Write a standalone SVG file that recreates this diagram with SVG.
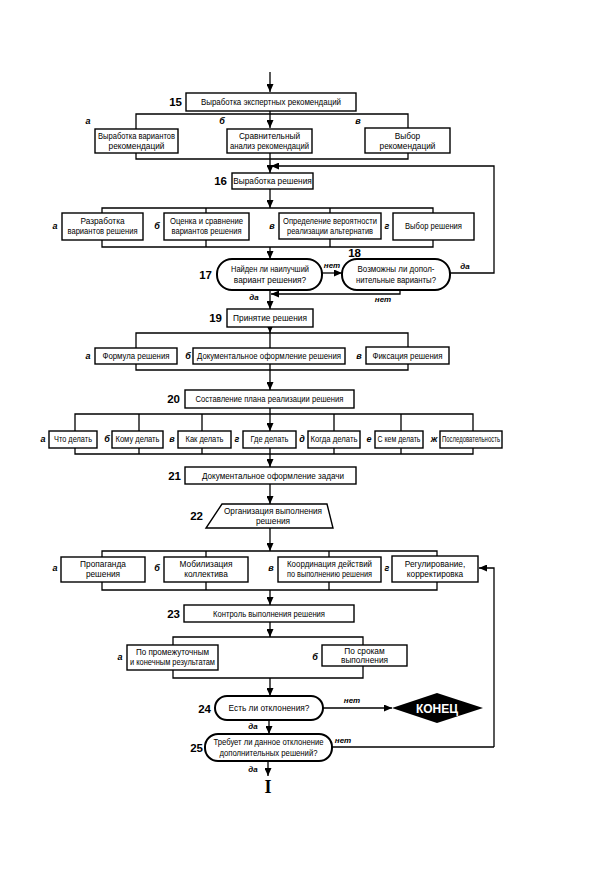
<svg xmlns="http://www.w3.org/2000/svg" width="595" height="880" viewBox="0 0 595 880">
<defs>
<marker id="ar" markerUnits="userSpaceOnUse" markerWidth="8" markerHeight="7" refX="8" refY="3.5" orient="auto">
<path d="M0,0 L8,3.5 L0,7 z" fill="#000"/>
</marker>
<style>
.box{fill:#fff;stroke:#000;stroke-width:1.4}
.dec{fill:#fff;stroke:#000;stroke-width:2}
.c{fill:none;stroke:#000;stroke-width:1.3}
.a{fill:none;stroke:#000;stroke-width:1.3;marker-end:url(#ar)}
text{font-family:"Liberation Sans",Arial,sans-serif;fill:#000}
.t{font-size:8.3px;text-anchor:middle}
.s{font-size:8.3px;text-anchor:middle}
.n{font-size:11.5px;font-weight:bold;text-anchor:end}
.l{font-size:9px;font-weight:bold;font-style:italic;text-anchor:middle}
.y{font-size:8px;font-weight:bold;font-style:italic;text-anchor:middle}
</style>
</defs>
<rect width="595" height="880" fill="#fff"/>

<g id="connectors">
<path class="a" d="M270,72 V92"/>
<path class="a" d="M270,111 V128"/>
<path class="c" d="M136,129 V114 H408 V128"/>
<path class="c" d="M136,153 V159 H408 V153 M270,153 V159"/>
<path class="a" d="M270,159 V173"/>
<path class="a" d="M450,273 H494 V166 H271"/>
<path class="a" d="M270,189 V208"/>
<path class="c" d="M102,213 V208 H433 V213 M206,208 V213 M330,208 V213"/>
<path class="c" d="M102,240 V247 H433 V240 M206,240 V247 M330,239 V247"/>
<path class="a" d="M270,247 V259"/>
<path class="a" d="M322,273 H342"/>
<text class="y" x="332" y="268">нет</text>
<text class="y" x="465" y="269">да</text>
<path class="a" d="M400,290 V294 H271"/>
<text class="y" x="383" y="302">нет</text>
<path class="a" d="M270,290 V309"/>
<text class="y" x="254" y="300">да</text>
<path class="a" d="M270,327 V333"/>
<path class="c" d="M136,348 V333 H408 V347 M270,333 V348"/>
<path class="c" d="M136,364 V370 H408 V364 M270,364 V370"/>
<path class="a" d="M270,370 V390"/>
<path class="a" d="M270,408 V431"/>
<path class="c" d="M75,431 V414 H473 V431 M139,414 V431 M202,414 V431 M334,414 V431 M401,414 V431"/>
<path class="c" d="M75,448 V454 H473 V448 M139,448 V454 M202,448 V454 M270,448 V454 M334,448 V454 M401,448 V454"/>
<path class="a" d="M270,454 V467"/>
<path class="a" d="M270,484 V504"/>
<path class="a" d="M270,528 V551"/>
<path class="c" d="M102,557 V551 H437 V556 M206,551 V557 M329,551 V557"/>
<path class="c" d="M102,582 V590 H437 V582 M206,582 V590 M329,582 V590"/>
<path class="a" d="M270,590 V605"/>
<path class="a" d="M494,747 V568 H479"/>
<path class="a" d="M270,622 V637"/>
<path class="c" d="M173,645 V637 H363 V645"/>
<path class="c" d="M173,670 V678 H363 V666"/>
<path class="a" d="M270,678 V696"/>
<path class="a" d="M323,708 H392"/>
<text class="y" x="352" y="703">нет</text>
<path class="a" d="M269,720 V734"/>
<text class="y" x="253" y="729">да</text>
<path class="c" d="M332,747 H494"/>
<text class="y" x="343" y="743">нет</text>
<path class="a" d="M268,761 V776"/>
<text class="y" x="253" y="772">да</text>
</g>

<g id="n15">
<rect class="box" x="186" y="93" width="170" height="18"/>
<text class="t" x="271" y="105" textLength="140" lengthAdjust="spacingAndGlyphs">Выработка экспертных рекомендаций</text>
<text class="n" x="182" y="106">15</text>
</g>
<g id="n15a">
<rect class="box" x="95" y="129" width="83" height="24"/>
<text class="t" x="136.5" y="139" textLength="77" lengthAdjust="spacingAndGlyphs">Выработка вариантов</text>
<text class="t" x="136.5" y="149">рекомендаций</text>
<text class="l" x="88" y="124">а</text>
</g>
<g id="n15b">
<rect class="box" x="227" y="129" width="85" height="24"/>
<text class="t" x="269.5" y="139">Сравнительный</text>
<text class="t" x="269.5" y="149" textLength="79" lengthAdjust="spacingAndGlyphs">анализ рекомендаций</text>
<text class="l" x="222" y="124">б</text>
</g>
<g id="n15c">
<rect class="box" x="365" y="128" width="85" height="25"/>
<text class="t" x="407.5" y="139">Выбор</text>
<text class="t" x="407.5" y="149">рекомендаций</text>
<text class="l" x="358" y="124">в</text>
</g>

<g id="n16">
<rect class="box" x="232" y="173" width="81" height="16"/>
<text class="t" x="272.5" y="184">Выработка решения</text>
<text class="n" x="227" y="185">16</text>
</g>
<g id="n16a">
<rect class="box" x="62" y="213" width="81" height="27"/>
<text class="t" x="102.5" y="224">Разработка</text>
<text class="t" x="102.5" y="234" textLength="70" lengthAdjust="spacingAndGlyphs">вариантов решения</text>
<text class="l" x="55" y="229">а</text>
</g>
<g id="n16b">
<rect class="box" x="164" y="213" width="85" height="27"/>
<text class="t" x="206.5" y="224" textLength="73" lengthAdjust="spacingAndGlyphs">Оценка и сравнение</text>
<text class="t" x="206.5" y="234" textLength="70" lengthAdjust="spacingAndGlyphs">вариантов решения</text>
<text class="l" x="157" y="229">б</text>
</g>
<g id="n16c">
<rect class="box" x="279" y="213" width="102" height="26"/>
<text class="t" x="330" y="224" textLength="94" lengthAdjust="spacingAndGlyphs">Определение вероятности</text>
<text class="t" x="330" y="234" textLength="86" lengthAdjust="spacingAndGlyphs">реализации альтернатив</text>
<text class="l" x="272" y="229">в</text>
</g>
<g id="n16d">
<rect class="box" x="393" y="213" width="81" height="27"/>
<text class="t" x="433.5" y="229" textLength="57" lengthAdjust="spacingAndGlyphs">Выбор решения</text>
<text class="l" x="387" y="229">г</text>
</g>

<g id="n17">
<rect class="dec" x="217" y="259" width="105" height="31" rx="15"/>
<text class="t" x="270" y="272" textLength="78" lengthAdjust="spacingAndGlyphs">Найден ли наилучший</text>
<text class="t" x="270" y="283">вариант решения?</text>
<text class="n" x="212" y="279">17</text>
</g>
<g id="n18">
<rect class="dec" x="342" y="259" width="108" height="31" rx="15"/>
<text class="t" x="396" y="272" textLength="77" lengthAdjust="spacingAndGlyphs">Возможны ли допол-</text>
<text class="t" x="396" y="283" textLength="80" lengthAdjust="spacingAndGlyphs">нительные варианты?</text>
<text class="n" x="361" y="257">18</text>
</g>

<g id="n19">
<rect class="box" x="227" y="309" width="86" height="18"/>
<text class="t" x="270" y="321">Принятие решения</text>
<text class="n" x="222" y="322">19</text>
</g>
<g id="n19a">
<rect class="box" x="95" y="348" width="82" height="16"/>
<text class="t" x="136" y="359" textLength="67" lengthAdjust="spacingAndGlyphs">Формула решения</text>
<text class="l" x="88" y="359">а</text>
</g>
<g id="n19b">
<rect class="box" x="193" y="348" width="152" height="16"/>
<text class="t" x="269" y="359" textLength="144" lengthAdjust="spacingAndGlyphs">Документальное оформление решения</text>
<text class="l" x="188" y="359">б</text>
</g>
<g id="n19c">
<rect class="box" x="366" y="347" width="83" height="17"/>
<text class="t" x="407.5" y="359" textLength="70" lengthAdjust="spacingAndGlyphs">Фиксация решения</text>
<text class="l" x="359" y="359">в</text>
</g>

<g id="n20">
<rect class="box" x="185" y="390" width="169" height="18"/>
<text class="t" x="269.5" y="402" textLength="148" lengthAdjust="spacingAndGlyphs">Составление плана реализации решения</text>
<text class="n" x="180" y="403">20</text>
</g>
<g id="n20a">
<rect class="box" x="49" y="431" width="48" height="17"/>
<text class="s" x="73" y="442" textLength="38" lengthAdjust="spacingAndGlyphs">Что делать</text>
<text class="l" x="43" y="442">а</text>
</g>
<g id="n20b">
<rect class="box" x="112" y="431" width="51" height="17"/>
<text class="s" x="137.5" y="442" textLength="44" lengthAdjust="spacingAndGlyphs">Кому делать</text>
<text class="l" x="107" y="442">б</text>
</g>
<g id="n20c">
<rect class="box" x="178" y="431" width="53" height="17"/>
<text class="s" x="204.5" y="442" textLength="38" lengthAdjust="spacingAndGlyphs">Как делать</text>
<text class="l" x="172" y="442">в</text>
</g>
<g id="n20d">
<rect class="box" x="243" y="431" width="53" height="17"/>
<text class="s" x="269.5" y="442" textLength="38" lengthAdjust="spacingAndGlyphs">Где делать</text>
<text class="l" x="237" y="442">г</text>
</g>
<g id="n20e">
<rect class="box" x="308" y="431" width="52" height="17"/>
<text class="s" x="334" y="442" textLength="47" lengthAdjust="spacingAndGlyphs">Когда делать</text>
<text class="l" x="302" y="442">д</text>
</g>
<g id="n20f">
<rect class="box" x="375" y="431" width="48" height="17"/>
<text class="s" x="399" y="442" textLength="43" lengthAdjust="spacingAndGlyphs">С кем делать</text>
<text class="l" x="369" y="442">е</text>
</g>
<g id="n20g">
<rect class="box" x="440" y="431" width="62" height="17"/>
<text class="s" x="471" y="442" textLength="58" lengthAdjust="spacingAndGlyphs">Последовательность</text>
<text class="l" x="434" y="442">ж</text>
</g>

<g id="n21">
<rect class="box" x="185" y="467" width="171" height="17"/>
<text class="t" x="273" y="478.5" textLength="142" lengthAdjust="spacingAndGlyphs">Документальное оформление задачи</text>
<text class="n" x="181" y="480">21</text>
</g>

<g id="n22">
<polygon class="box" points="222,504 327,504 333,528 206,528"/>
<text class="t" x="273" y="514" textLength="98" lengthAdjust="spacingAndGlyphs">Организация выполнения</text>
<text class="t" x="273" y="524">решения</text>
<text class="n" x="203" y="520">22</text>
</g>
<g id="n22a">
<rect class="box" x="61" y="557" width="84" height="25"/>
<text class="t" x="103" y="567">Пропаганда</text>
<text class="t" x="103" y="577">решения</text>
<text class="l" x="55" y="571">а</text>
</g>
<g id="n22b">
<rect class="box" x="164" y="557" width="84" height="25"/>
<text class="t" x="206" y="567">Мобилизация</text>
<text class="t" x="206" y="577">коллектива</text>
<text class="l" x="157" y="571">б</text>
</g>
<g id="n22c">
<rect class="box" x="278" y="557" width="103" height="25"/>
<text class="t" x="329.5" y="567" textLength="85" lengthAdjust="spacingAndGlyphs">Координация действий</text>
<text class="t" x="329.5" y="577" textLength="85" lengthAdjust="spacingAndGlyphs">по выполнению решения</text>
<text class="l" x="271" y="571">в</text>
</g>
<g id="n22d">
<rect class="box" x="392" y="556" width="86" height="26"/>
<text class="t" x="435" y="567">Регулирование,</text>
<text class="t" x="435" y="577">корректировка</text>
<text class="l" x="387" y="571">г</text>
</g>

<g id="n23">
<rect class="box" x="184" y="605" width="170" height="17"/>
<text class="t" x="269" y="616.5" textLength="112" lengthAdjust="spacingAndGlyphs">Контроль выполнения решения</text>
<text class="n" x="180" y="618">23</text>
</g>
<g id="n23a">
<rect class="box" x="127" y="645" width="91" height="25"/>
<text class="t" x="172.5" y="655" textLength="73" lengthAdjust="spacingAndGlyphs">По промежуточным</text>
<text class="t" x="172.5" y="665" textLength="85" lengthAdjust="spacingAndGlyphs">и конечным результатам</text>
<text class="l" x="120" y="660">а</text>
</g>
<g id="n23b">
<rect class="box" x="322" y="645" width="85" height="21"/>
<text class="t" x="364.5" y="654">По срокам</text>
<text class="t" x="364.5" y="663">выполнения</text>
<text class="l" x="315" y="660">б</text>
</g>

<g id="n24">
<rect class="dec" x="215" y="696" width="108" height="24" rx="12"/>
<text class="t" x="269" y="711">Есть ли отклонения?</text>
<text class="n" x="211" y="713">24</text>
</g>
<g id="end">
<polygon points="392,708 437,693 483,708 437,723" fill="#000"/>
<text x="437" y="712.5" font-size="12" font-weight="bold" text-anchor="middle" style="fill:#fff">КОНЕЦ</text>
</g>
<g id="n25">
<rect class="dec" x="205" y="734" width="127" height="27" rx="13"/>
<text class="t" x="268.5" y="745" textLength="110" lengthAdjust="spacingAndGlyphs">Требует ли данное отклонение</text>
<text class="t" x="268.5" y="756" textLength="98" lengthAdjust="spacingAndGlyphs">дополнительных решений?</text>
<text class="n" x="203" y="752">25</text>
</g>
<g id="cont">
<text x="268" y="793" font-size="18" font-weight="bold" text-anchor="middle" style="font-family:'Liberation Serif',serif">I</text>
</g>
</svg>
